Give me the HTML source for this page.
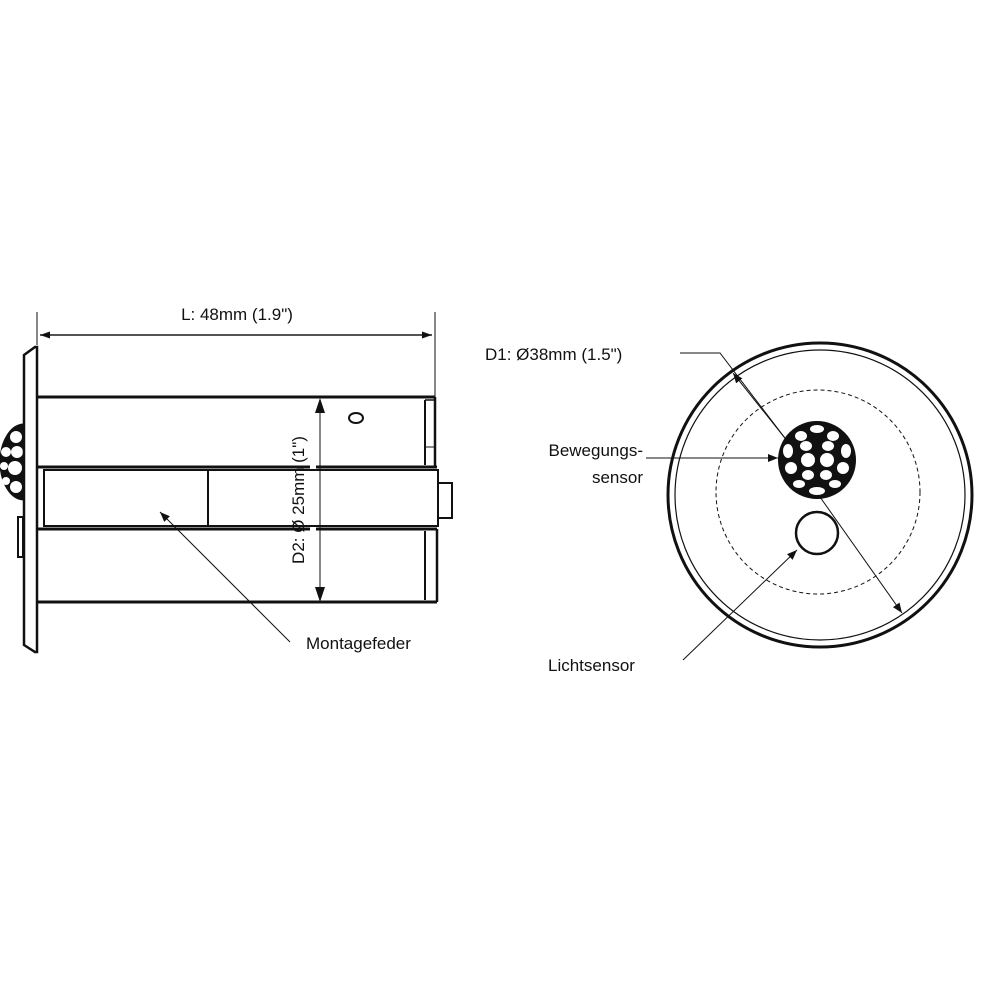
<!DOCTYPE html>
<html><head><style>
html,body{margin:0;padding:0;background:#fff;}
svg{display:block;}
text{font-family:"Liberation Sans",Arial,sans-serif;fill:#111;}
</style></head><body>
<svg width="1000" height="1000" viewBox="0 0 1000 1000" xmlns="http://www.w3.org/2000/svg">
<defs>
<marker id="ah" viewBox="0 0 10 10" refX="10" refY="5" markerWidth="10" markerHeight="10" markerUnits="userSpaceOnUse" orient="auto"><path d="M0,1 L10,5 L0,9 z" fill="#111"/></marker>
<marker id="ah2" viewBox="0 0 10 10" refX="10" refY="5" markerWidth="14" markerHeight="10" markerUnits="userSpaceOnUse" orient="auto"><path d="M0,1.5 L10,5 L0,8.5 z" fill="#111"/></marker>
</defs>
<g stroke="#111" fill="none">
<line x1="37" y1="312" x2="37" y2="345" stroke-width="1"/>
<line x1="435" y1="312" x2="435" y2="397" stroke-width="1"/>
<line x1="40" y1="335" x2="432" y2="335" stroke-width="1.2" marker-end="url(#ah2)"/>
<line x1="432" y1="335" x2="40" y2="335" stroke-width="1.2" marker-end="url(#ah2)"/>
<path d="M24,424 A24,38 0 0 0 24,500 Z" fill="#111" stroke-width="1"/>
<g fill="#fff" stroke="none">
<circle cx="16" cy="437" r="6"/><circle cx="6" cy="452" r="5"/><circle cx="17" cy="452" r="6"/>
<circle cx="4" cy="466" r="4"/><circle cx="15" cy="468" r="7"/><circle cx="6" cy="481" r="4"/>
<circle cx="16" cy="487" r="6"/>
</g>
<path d="M24,355 L35,347 L37,347 L37,652 L35,652 L24,645 Z" fill="#fff" stroke-width="2.5"/>
<rect x="18" y="517" width="5" height="40" fill="#fff" stroke-width="2"/>
<line x1="37" y1="397" x2="435" y2="397" stroke-width="3"/>
<line x1="37" y1="602" x2="437" y2="602" stroke-width="3"/>
<line x1="37" y1="467" x2="310" y2="467" stroke-width="3"/>
<line x1="316" y1="467" x2="437" y2="467" stroke-width="3"/>
<line x1="37" y1="529" x2="310" y2="529" stroke-width="3"/>
<line x1="316" y1="529" x2="437" y2="529" stroke-width="3"/>
<rect x="44" y="470" width="394" height="56" stroke-width="2"/>
<line x1="208" y1="470" x2="208" y2="526" stroke-width="2"/>
<rect x="438" y="483" width="14" height="35" stroke-width="2"/>
<line x1="435" y1="397" x2="435" y2="467" stroke-width="2.5"/>
<line x1="425" y1="400" x2="425" y2="465" stroke-width="2"/>
<line x1="425" y1="400" x2="435" y2="400" stroke-width="1.5"/>
<line x1="425" y1="447" x2="435" y2="447" stroke-width="1"/>
<line x1="437" y1="529" x2="437" y2="602" stroke-width="2.5"/>
<line x1="425" y1="531" x2="425" y2="600" stroke-width="2"/>
<ellipse cx="356" cy="418" rx="7" ry="5" stroke-width="2"/>
<line x1="320" y1="412" x2="320" y2="590" stroke-width="1"/>
<path d="M320,398 L315,413 L325,413 Z" fill="#111" stroke="none"/>
<path d="M320,602 L315,587 L325,587 Z" fill="#111" stroke="none"/>
<line x1="290" y1="642" x2="160" y2="512" stroke-width="1" marker-end="url(#ah)"/>

<circle cx="820" cy="495" r="152" stroke-width="3"/>
<circle cx="820" cy="495" r="145" stroke-width="1.2"/>
<circle cx="818" cy="492" r="102" stroke-width="1" stroke-dasharray="4,3"/>
<circle cx="817" cy="460" r="38" fill="#111" stroke-width="2"/>
<g fill="#fff" stroke="none">
<ellipse cx="817" cy="429" rx="7" ry="4"/>
<ellipse cx="801" cy="436" rx="6" ry="5"/><ellipse cx="833" cy="436" rx="6" ry="5"/>
<ellipse cx="788" cy="451" rx="5" ry="7"/><ellipse cx="846" cy="451" rx="5" ry="7"/>
<ellipse cx="806" cy="446" rx="6" ry="5"/><ellipse cx="828" cy="446" rx="6" ry="5"/>
<ellipse cx="808" cy="460" rx="7" ry="7"/><ellipse cx="827" cy="460" rx="7" ry="7"/>
<ellipse cx="791" cy="468" rx="6" ry="6"/><ellipse cx="843" cy="468" rx="6" ry="6"/>
<ellipse cx="808" cy="475" rx="6" ry="5"/><ellipse cx="826" cy="475" rx="6" ry="5"/>
<ellipse cx="799" cy="484" rx="6" ry="4"/><ellipse cx="835" cy="484" rx="6" ry="4"/>
<ellipse cx="817" cy="491" rx="8" ry="4"/>
</g>
<circle cx="817" cy="533" r="21" fill="#fff" stroke-width="2.5"/>
<line x1="788" y1="442" x2="733" y2="373" stroke-width="1" marker-end="url(#ah)"/>
<line x1="820" y1="497" x2="902" y2="613" stroke-width="1" marker-end="url(#ah)"/>
<polyline points="680,353 720,353 788,442" stroke-width="1"/>
<line x1="646" y1="458" x2="778" y2="458" stroke-width="1" marker-end="url(#ah)"/>
<line x1="683" y1="660" x2="797" y2="550" stroke-width="1" marker-end="url(#ah)"/>
</g>
<text x="237" y="320" font-size="17" text-anchor="middle">L: 48mm (1.9")</text>
<text transform="translate(304,500) rotate(-90)" font-size="17" text-anchor="middle">D2: Ø 25mm (1")</text>
<text x="306" y="649" font-size="17">Montagefeder</text>
<text x="485" y="360" font-size="17">D1: Ø38mm (1.5")</text>
<text x="643" y="456" font-size="17" text-anchor="end">Bewegungs-</text>
<text x="643" y="483" font-size="17" text-anchor="end">sensor</text>
<text x="548" y="671" font-size="17">Lichtsensor</text>
</svg>
</body></html>
